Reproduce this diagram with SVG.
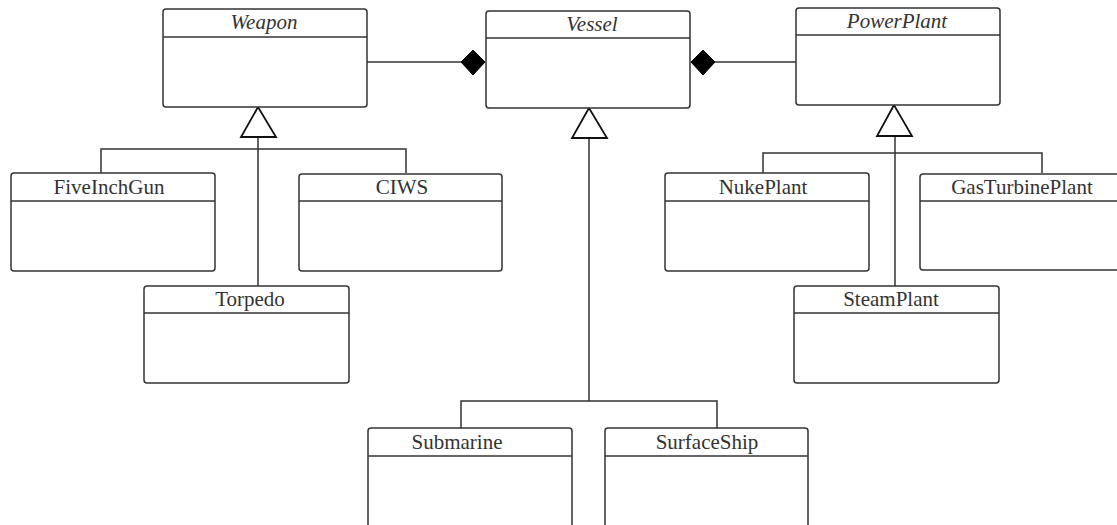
<svg xmlns="http://www.w3.org/2000/svg" width="1117" height="525" viewBox="0 0 1117 525">
<style>
.box{fill:#fff;stroke:#333;stroke-width:1.5}
.div{stroke:#333;stroke-width:1.5}
.t{font-family:"Liberation Serif","Times New Roman",serif;font-size:21px;fill:#333;text-anchor:middle}
.i{font-style:italic}
.c{fill:none;stroke:#333;stroke-width:1.5}
.tri{fill:#fff;stroke:#111;stroke-width:1.8}
.dia{fill:#000;stroke:#000;stroke-width:1}
</style>
<rect width="1117" height="525" fill="#fff"/>
<g id="connectors">
  <path class="c" d="M367,62 H461"/>
  <path class="c" d="M715,62 H796"/>
  <path class="c" d="M258,137 V286 M101,173 V149 H406 V173"/>
  <path class="c" d="M589,138 V401 M461,428 V401 H717 V428"/>
  <path class="c" d="M895,136 V286 M763,173 V153 H1042 V173"/>
  <polygon class="dia" points="461,62 473,50 485,62 473,75"/>
  <polygon class="dia" points="691,62 703,50 715,62 703,75"/>
  <polygon class="tri" points="258,107 241,137 276,137"/>
  <polygon class="tri" points="589,108 572,138 607,138"/>
  <polygon class="tri" points="894,105 877,136 912,136"/>
</g>
<g id="Weapon">
  <rect class="box" x="163" y="9" width="204" height="98" rx="3"/>
  <line class="div" x1="163" y1="37" x2="367" y2="37"/>
  <text class="t i" x="264" y="29">Weapon</text>
</g>
<g id="Vessel">
  <rect class="box" x="486" y="11" width="204" height="97" rx="3"/>
  <line class="div" x1="486" y1="38" x2="690" y2="38"/>
  <text class="t i" x="592" y="31">Vessel</text>
</g>
<g id="PowerPlant">
  <rect class="box" x="796" y="8" width="204" height="97" rx="3"/>
  <line class="div" x1="796" y1="35" x2="1000" y2="35"/>
  <text class="t i" x="897" y="28">PowerPlant</text>
</g>
<g id="FiveInchGun">
  <rect class="box" x="11" y="173" width="204" height="98" rx="3"/>
  <line class="div" x1="11" y1="201" x2="215" y2="201"/>
  <text class="t" x="109" y="194">FiveInchGun</text>
</g>
<g id="CIWS">
  <rect class="box" x="299" y="174" width="203" height="97" rx="3"/>
  <line class="div" x1="299" y1="201" x2="502" y2="201"/>
  <text class="t" x="402" y="194">CIWS</text>
</g>
<g id="Torpedo">
  <rect class="box" x="144" y="286" width="205" height="97" rx="3"/>
  <line class="div" x1="144" y1="313" x2="349" y2="313"/>
  <text class="t" x="250" y="306">Torpedo</text>
</g>
<g id="NukePlant">
  <rect class="box" x="665" y="173" width="204" height="98" rx="3"/>
  <line class="div" x1="665" y1="201" x2="869" y2="201"/>
  <text class="t" x="763" y="194">NukePlant</text>
</g>
<g id="GasTurbinePlant">
  <rect class="box" x="920" y="174" width="204" height="96" rx="3"/>
  <line class="div" x1="920" y1="201" x2="1124" y2="201"/>
  <text class="t" x="1022" y="194">GasTurbinePlant</text>
</g>
<g id="SteamPlant">
  <rect class="box" x="794" y="286" width="205" height="97" rx="3"/>
  <line class="div" x1="794" y1="313" x2="999" y2="313"/>
  <text class="t" x="891" y="306">SteamPlant</text>
</g>
<g id="Submarine">
  <rect class="box" x="368" y="428" width="204" height="100" rx="3"/>
  <line class="div" x1="368" y1="456" x2="572" y2="456"/>
  <text class="t" x="457" y="449">Submarine</text>
</g>
<g id="SurfaceShip">
  <rect class="box" x="605" y="428" width="203" height="100" rx="3"/>
  <line class="div" x1="605" y1="456" x2="808" y2="456"/>
  <text class="t" x="707" y="449">SurfaceShip</text>
</g>
</svg>
